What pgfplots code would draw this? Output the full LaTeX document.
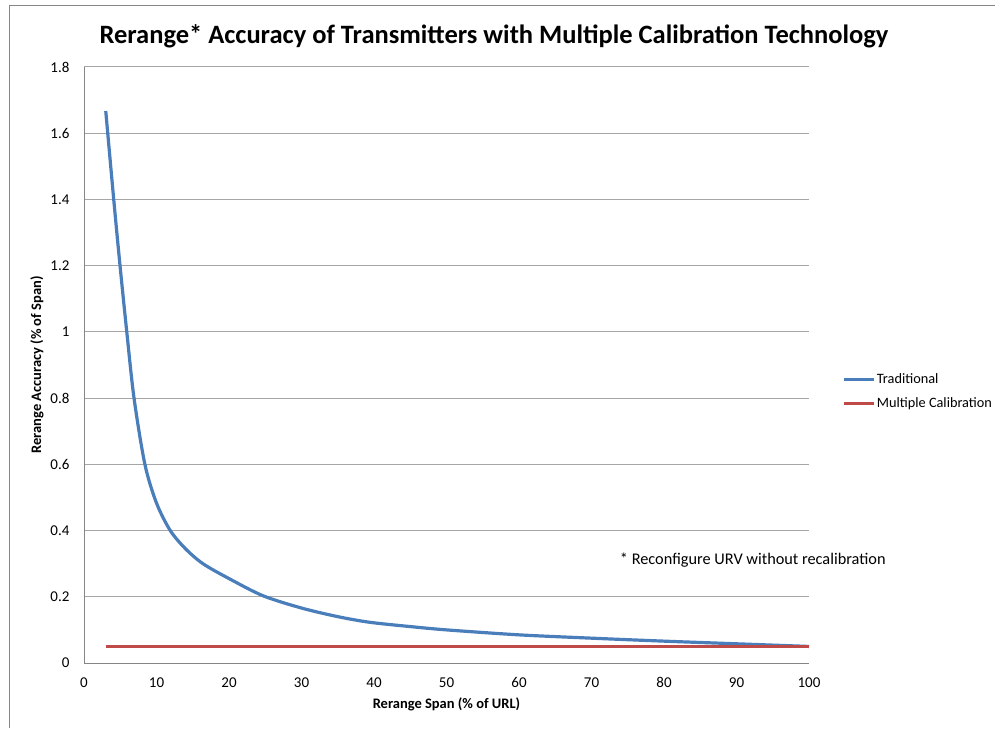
\documentclass[border=0pt]{standalone}
\usepackage{pgfplots}
\pgfplotsset{compat=1.18}
\usepackage{fontspec}
\setmainfont{Carlito}
\definecolor{tradblue}{HTML}{4A7EBB}
\definecolor{multred}{HTML}{BE4B48}
\definecolor{gridgray}{HTML}{A6A6A6}
\definecolor{axisgray}{HTML}{868686}
\begin{document}
\begin{tikzpicture}[x=1pt,y=1pt]
\path[use as bounding box] (0,0) rectangle (995,728);
\draw[axisgray, line width=1pt] (9,0) -- (9,722.5) -- (995,722.5);
\begin{axis}[
  at={(84pt,65pt)}, anchor=south west, scale only axis,
  width=725pt, height=596pt, clip=false,
  xmin=0, xmax=100, ymin=0, ymax=1.8,
  xtick={0,10,20,30,40,50,60,70,80,90,100},
  ytick={0,0.2,0.4,0.6,0.8,1,1.2,1.4,1.6,1.8},
  axis x line*=bottom, axis y line*=left,
  axis line style={-, axisgray, line width=1pt},
  ymajorgrids, grid style={gridgray, line width=1pt},
  major tick length=0pt,
  tick label style={font=\fontsize{15}{18}\selectfont, text=black},
  /pgf/number format/assume math mode=true,
  yticklabel style={/pgf/number format/fixed, /pgf/number format/precision=1, xshift=-11pt},
  xticklabel style={yshift=-11pt},
  xlabel={\bfseries Rerange Span (\% of URL)},
  ylabel={\bfseries Rerange Accuracy (\% of Span)},
  label style={font=\fontsize{14.5}{17}\selectfont},
  xlabel style={at={(0.5,0)}, anchor=center, yshift=-41pt},
  ylabel style={at={(0,0.5)}, anchor=center, rotate=0, yshift=47pt},
  legend style={draw=none, fill=none, at={(1.0455,0.4555)}, anchor=west,
    font=\fontsize{14.3}{17}\selectfont, row sep=9.5pt, inner sep=0pt,
    nodes={inner sep=1.5pt}},
  legend cell align=left,
  legend image code/.code={\draw[#1] (0pt,0pt) -- (30pt,0pt);},
]
\addplot[tradblue, line width=3.2pt, smooth, tension=0.5] coordinates {
 (3,1.667) (4.1,1.4) (4.97,1.2) (5.9,1.0) (6.9,0.8) (8.4,0.6) (10,0.483)
 (11.9,0.40) (14,0.345) (16.4,0.300) (20,0.255) (24.7,0.203) (30,0.166)
 (35,0.140) (39.4,0.123) (45,0.110) (50,0.100) (60,0.085) (70,0.075)
 (80,0.066) (90,0.058) (100,0.050)
};
\addlegendentry{Traditional}
\addplot[multred, line width=3.2pt] coordinates {
 (3,0.05) (10,0.05) (20,0.05) (30,0.05) (40,0.05) (50,0.05) (60,0.05)
 (70,0.05) (80,0.05) (90,0.05) (100,0.05)
};
\addlegendentry{Multiple Calibration}
\node[anchor=west, inner sep=0pt, font=\fontsize{16.3}{19}\selectfont] at (axis cs:73.9,0.31) {* Reconfigure URV without recalibration};
\end{axis}
\node[font=\bfseries\fontsize{26.5}{31}\selectfont] at (494,692) {Rerange* Accuracy of Transmitters with Multiple Calibration Technology};
\end{tikzpicture}
\end{document}
